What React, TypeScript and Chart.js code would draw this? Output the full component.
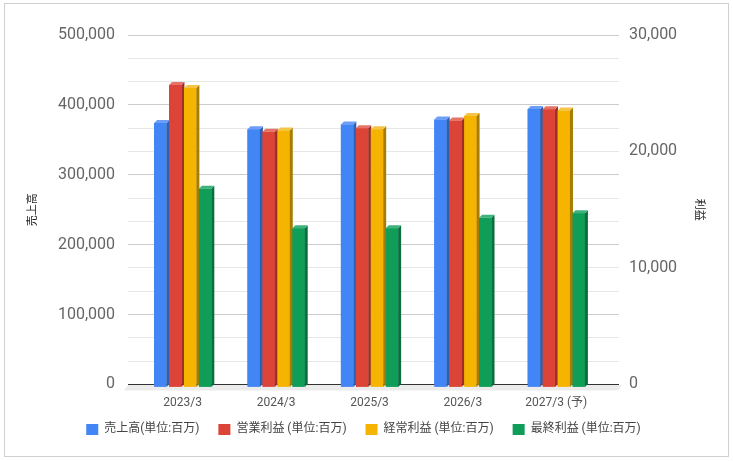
import React, { useRef, useEffect } from 'react';
import { Chart, registerables } from 'chart.js';

Chart.register(...registerables);

const CATEGORIES = ['2023/3', '2024/3', '2025/3', '2026/3', '2027/3 (予)'];
const SALES = [374000, 365000, 372000, 379000, 394000];
const OPERATING = [25700, 21700, 22000, 22650, 23620];
const ORDINARY = [25450, 21800, 21900, 23050, 23510];
const NET = [16800, 13400, 13400, 14300, 14700];

const SALES_MAX = 500000;
const PROFIT_MAX = 30000;
const GRID_STEPS = 15; // light lines between labelled ticks

const FONT = "Roboto, 'Noto Sans CJK JP', sans-serif";

// front, top, side
const SHADES: Record<string, [string, string, string]> = {
  sales: ['#4285f4', '#6d9ef7', '#2f5fb0'],
  op: ['#db4437', '#e57368', '#9c3027'],
  ord: ['#f4b400', '#f6c445', '#a87c00'],
  net: ['#0f9d58', '#3fb17a', '#0a6e3e'],
};
const SHADE_LIST = [SHADES.sales, SHADES.op, SHADES.ord, SHADES.net];
const DEPTH = 3;

const gridColor = (i: number) => (i === 0 ? '#333' : i % 3 === 0 ? '#ccc' : '#e6e6e6');

const bar3d = {
  id: 'bar3d',
  beforeDatasetsDraw(chart: Chart) {
    const { ctx, chartArea } = chart;
    const base = chart.scales.y.getPixelForValue(0);
    ctx.save();
    ctx.fillStyle = '#ececec';
    ctx.beginPath();
    ctx.moveTo(chartArea.left - 8, base + 0.5);
    ctx.lineTo(chartArea.right + 19, base + 0.5);
    ctx.lineTo(chartArea.right + 15, base + 6);
    ctx.lineTo(chartArea.left - 12, base + 6);
    ctx.closePath();
    ctx.fill();
    ctx.restore();
  },
  afterDatasetsDraw(chart: Chart) {
    const { ctx } = chart;
    ctx.save();
    chart.data.datasets.forEach((_, di) => {
      const [front, top, side] = SHADE_LIST[di];
      const meta = chart.getDatasetMeta(di);
      meta.data.forEach((el: any) => {
        const { x, y, base, width } = el.getProps(['x', 'y', 'base', 'width'], true);
        const l = x - width / 2;
        const r = x + width / 2;
        const bottom = base + 3;
        ctx.fillStyle = front;
        ctx.fillRect(l, y, width, bottom - y);
        ctx.fillStyle = side;
        ctx.beginPath();
        ctx.moveTo(r, y);
        ctx.lineTo(r + DEPTH, y - DEPTH);
        ctx.lineTo(r + DEPTH, bottom - DEPTH);
        ctx.lineTo(r, bottom);
        ctx.closePath();
        ctx.fill();
        ctx.fillStyle = top;
        ctx.beginPath();
        ctx.moveTo(l, y);
        ctx.lineTo(l + DEPTH, y - DEPTH);
        ctx.lineTo(r + DEPTH, y - DEPTH);
        ctx.lineTo(r, y);
        ctx.closePath();
        ctx.fill();
      });
    });
    ctx.restore();
  },
};

export default function App() {
  const canvasRef = useRef<HTMLCanvasElement>(null);
  const chartRef = useRef<Chart | null>(null);

  useEffect(() => {
    document.body.style.margin = '0';
    const canvas = canvasRef.current;
    if (!canvas) return;

    const bar = (label: string, data: number[], color: string, axis: string) => ({
      label,
      data,
      yAxisID: axis,
      backgroundColor: color,
      borderWidth: 0,
      categoryPercentage: 0.64,
      barPercentage: 0.83,
    });

    const defaultLabels = Chart.defaults.plugins.legend.labels.generateLabels;

    chartRef.current = new Chart(canvas, {
      type: 'bar',
      data: {
        labels: CATEGORIES,
        datasets: [
          bar('売上高(単位:百万)', SALES, SHADES.sales[0], 'y'),
          bar('営業利益 (単位:百万)', OPERATING, SHADES.op[0], 'y1'),
          bar('経常利益 (単位:百万)', ORDINARY, SHADES.ord[0], 'y1'),
          bar('最終利益 (単位:百万)', NET, SHADES.net[0], 'y1'),
        ],
      },
      options: {
        animation: false,
        responsive: false,
        layout: { padding: { top: 35, bottom: 15.6, left: 0, right: 0 } },
        plugins: {
          tooltip: { enabled: false },
          legend: {
            position: 'bottom',
            labels: {
              boxWidth: 12,
              boxHeight: 11,
              padding: 13,
              color: '#444',
              font: { family: FONT, size: 12 },
              // a little extra room after each label, like the original spacing
              generateLabels: (chart: Chart) =>
                defaultLabels(chart).map((item: any) => ({ ...item, text: item.text + '  ' })),
            },
          },
        },
        scales: {
          x: {
            grid: { display: false, drawTicks: false },
            border: { display: false },
            ticks: { color: '#555', padding: 11, maxRotation: 0, font: { family: FONT, size: 12 } },
            afterFit: (s: any) => { s.height = 26; },
          },
          y: {
            position: 'left',
            min: 0,
            max: SALES_MAX,
            afterBuildTicks: (s: any) => {
              s.ticks = Array.from({ length: GRID_STEPS + 1 }, (_, i) => ({ value: (SALES_MAX * i) / GRID_STEPS }));
            },
            afterFit: (s: any) => { s.width = 136; },
            border: { display: false },
            grid: { color: (c: any) => gridColor(c.index), tickLength: 8 },
            ticks: {
              autoSkip: false,
              padding: 13,
              color: '#666',
              font: { family: FONT, size: 16 },
              callback: (v: any, i: number) => (i % 3 === 0 ? Math.round(Number(v)).toLocaleString('en-US') : ''),
            },
            title: {
              display: true,
              text: '売上高',
              color: '#222',
              padding: { top: 27, bottom: 0 },
              font: { family: FONT, size: 11 },
            },
          },
          y1: {
            position: 'right',
            min: 0,
            max: PROFIT_MAX,
            afterBuildTicks: (s: any) => {
              s.ticks = Array.from({ length: GRID_STEPS + 1 }, (_, i) => ({ value: (PROFIT_MAX * i) / GRID_STEPS }));
            },
            afterFit: (s: any) => { s.width = 130; },
            border: { display: false },
            grid: { color: (c: any) => gridColor(c.index), tickLength: 16, drawOnChartArea: false },
            ticks: {
              autoSkip: false,
              padding: 10,
              color: '#666',
              font: { family: FONT, size: 16 },
              callback: (v: any, i: number) => (i % 5 === 0 ? Math.round(Number(v)).toLocaleString('en-US') : ''),
            },
            title: {
              display: true,
              text: '利益',
              color: '#222',
              padding: { top: 28, bottom: 0 },
              font: { family: FONT, size: 11 },
            },
          },
        },
      },
      plugins: [bar3d],
    });

    return () => {
      chartRef.current?.destroy();
      chartRef.current = null;
    };
  }, []);

  return (
    <div style={{ position: 'relative', width: 733, height: 461, background: '#fff' }}>
      <canvas ref={canvasRef} width={733} height={461} />
      <div
        style={{
          position: 'absolute', left: 4, top: 3, width: 723, height: 452,
          border: '1px solid #d0d0d0', pointerEvents: 'none',
        }}
      />
    </div>
  );
}
